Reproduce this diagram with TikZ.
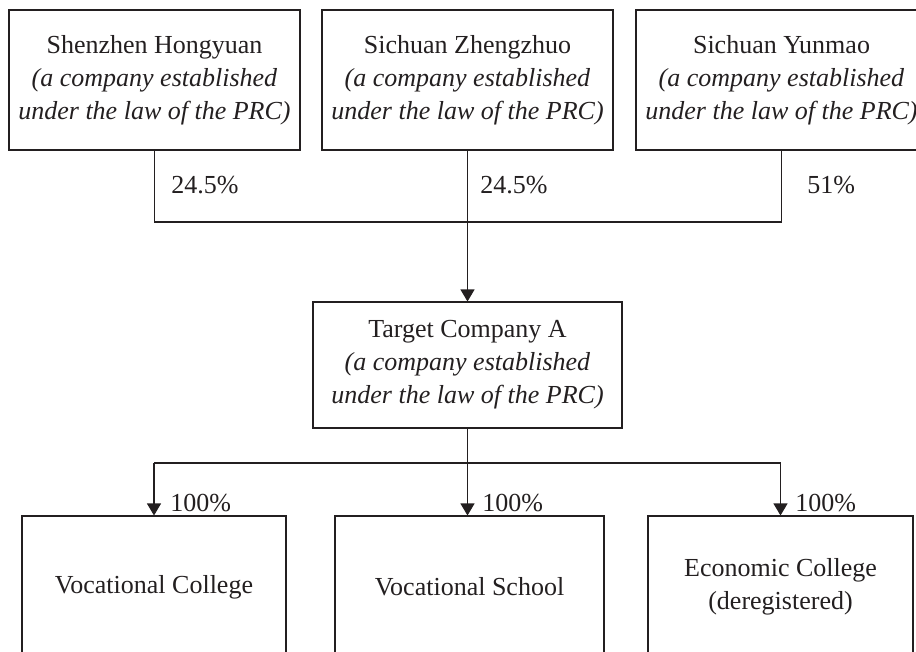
\documentclass[tikz,border=0pt]{standalone}
\usepackage{fontspec}
\setmainfont{Liberation Serif}
\usetikzlibrary{arrows.meta}
\definecolor{ink}{HTML}{231F20}
\tikzset{
  box/.style={draw=ink, line width=0.8pt, text=ink, rectangle, align=center, inner sep=0pt,
    font=\fontsize{19.5}{24.75}\selectfont},
  pct/.style={anchor=west, text=ink, inner sep=0pt, font=\fontsize{19.5}{24.75}\selectfont},
  conn/.style={draw=ink, line width=0.8pt},
  arr/.style={conn, -{Triangle[width=10.5pt,length=9pt]}}
}
\begin{document}
\begin{tikzpicture}[x=0.75pt,y=-0.75pt]
\useasboundingbox (0,0) rectangle (916,651);
\clip (0,0) rectangle (916,651);
% top row
\node[box, minimum width=291*0.75pt, minimum height=140*0.75pt] (a1) at (154.5,80)
  {Shenzhen Hongyuan\\\textit{(a company established}\\\textit{under the law of the PRC)}};
\node[box, minimum width=291*0.75pt, minimum height=140*0.75pt] (a2) at (467.5,80)
  {Sichuan Zhengzhuo\\\textit{(a company established}\\\textit{under the law of the PRC)}};
\node[box, minimum width=291*0.75pt, minimum height=140*0.75pt] (a3) at (781.5,80)
  {Sichuan Yunmao\\\textit{(a company established}\\\textit{under the law of the PRC)}};
% target
\node[box, minimum width=309*0.75pt, minimum height=126*0.75pt] (t) at (467.5,365)
  {Target Company A\\\textit{(a company established}\\\textit{under the law of the PRC)}};
% bottom row
\node[box, minimum width=264*0.75pt, minimum height=142*0.75pt] (b1) at (154,587)
  {Vocational College};
\node[box, minimum width=269*0.75pt, minimum height=142*0.75pt] (b2) at (469.5,587)
  {Vocational School};
\node[box, minimum width=265*0.75pt, minimum height=142*0.75pt] (b3) at (780.5,587)
  {Economic College\\(deregistered)};
% junctions
\coordinate (j1) at (467.5,222);
\coordinate (j2) at (467.5,463);
% upper connectors
\draw[conn] (a1.south) -- (a1.south |- j1) -- (a3.south |- j1) -- (a3.south);
\draw[conn] (a2.south) -- (j1);
\draw[arr] (j1) -- (t.north);
% lower connectors
\draw[conn] (t.south) -- (j2);
\draw[conn] (b1.north |- j2) -- (b3.north |- j2);
\draw[arr] (b1.north |- j2) -- (b1.north);
\draw[arr] (j2) -- (b2.north -| j2);
\draw[arr] (b3.north |- j2) -- (b3.north);
% percentages
\node[pct] (p1) at (171,185) {24.5\%};
\node[pct] (p2) at (480,185) {24.5\%};
\node[pct] (p3) at (807,185) {51\%};
\node[pct] (q1) at (170,503) {100\%};
\node[pct] (q2) at (482,503) {100\%};
\node[pct] (q3) at (795,503) {100\%};
\end{tikzpicture}
\end{document}
